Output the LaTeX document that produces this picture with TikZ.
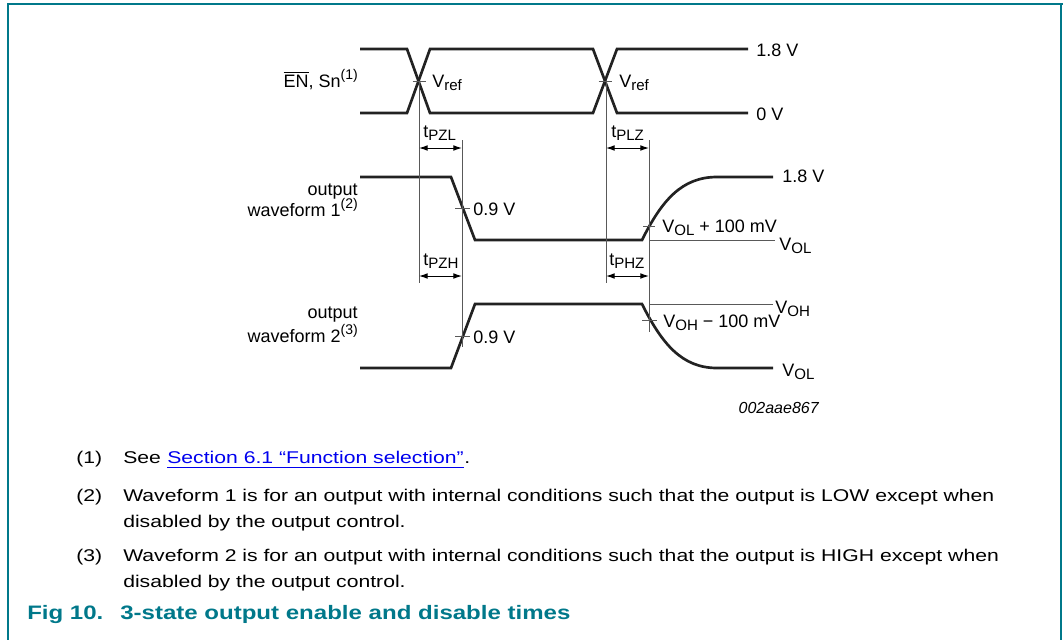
\documentclass[tikz,border=0pt]{standalone}
\usepackage{fontspec}
\setmainfont{Liberation Sans}
\newfontfamily\notef[FakeStretch=1.245]{Liberation Sans}
\newfontfamily\capf[FakeStretch=1.235]{Liberation Sans Bold}
\usetikzlibrary{arrows.meta}
\definecolor{nxpteal}{HTML}{00788A}
\definecolor{linkblue}{HTML}{0000EE}
\definecolor{waveblack}{HTML}{222222}
\newcommand{\sbs}[1]{\raisebox{-0.2em}{\fontsize{11.3}{11}\selectfont #1}}
\newcommand{\sps}[1]{\raisebox{0.42em}{\fontsize{10.5}{10}\selectfont #1}}
\newcommand{\dgf}{\fontsize{13.5}{16}\selectfont}
\newcommand{\ntf}{\notef\fontsize{12.75}{15}\selectfont}
\newcommand{\cpf}{\capf\fontsize{14.6}{17}\selectfont}
\tikzset{
  lbl/.style={inner sep=0pt, font=\dgf},
  note/.style={inner sep=0pt, font=\ntf, anchor=base west},
  capt/.style={inner sep=0pt, font=\cpf, text=nxpteal, anchor=base west},
  wave/.style={line width=2pt, draw=waveblack, line join=miter},
  thin/.style={line width=0.75pt, draw=black!65},
  tick/.style={line width=0.75pt, draw=black!65},
  dim/.style={line width=0.75pt, draw=black, {Latex[length=6.5pt,width=4.3pt]}-{Latex[length=6.5pt,width=4.3pt]}},
  frame/.style={line width=1.2pt, draw=nxpteal}
}
\begin{document}
\begin{tikzpicture}[x=0.75pt,y=-0.75pt]
\useasboundingbox (0,0) rectangle (1063,640);
% frame
\coordinate (ftl) at (7,4); \coordinate (ftr) at (1063,4);
\coordinate (fl1) at (8,4); \coordinate (fl2) at (8,640);
\coordinate (fr1) at (1061,4); \coordinate (fr2) at (1061,640);
\draw[frame] (ftl) -- (ftr);
\draw[frame] (fl1) -- (fl2);
\draw[frame] (fr1) -- (fr2);

% key coordinates
\coordinate (x1) at (418.5,81);
\coordinate (x2) at (605.5,81);
\coordinate (c1) at (462,208.5);
\coordinate (c2) at (462,336);
\coordinate (c3) at (649,226);
\coordinate (c4) at (649,320);

% EN / Sn waveforms
\draw[wave] (360,49) -- (407,49) -- (430,113) -- (593,113) -- (617,49) -- (748,49);
\draw[wave] (360,113) -- (407,113) -- (430,49) -- (593,49) -- (617,113) -- (748,113);

% output waveform 1
\draw[wave] (360,177) -- (451,177) -- (475,240) -- (642,240) .. controls (662,200) and (682,177) .. (717,177) -- (773,177);
% output waveform 2
\draw[wave] (360,368) -- (451,368) -- (475,304) -- (642,304) .. controls (662,344) and (682,368) .. (717,368) -- (773,368);

% vertical reference lines
\coordinate (v1b) at (419,283);
\coordinate (v2t) at (462,140); \coordinate (v2b) at (462,347);
\coordinate (v3b) at (606,283);
\coordinate (v4t) at (649,140); \coordinate (v4b) at (649,332);
\draw[thin] (419,81) -- (v1b);
\draw[thin] (v2t) -- (v2b);
\draw[thin] (606,81) -- (v3b);
\draw[thin] (v4t) -- (v4b);

% level reference lines
\coordinate (rol1) at (649,240); \coordinate (rol2) at (775,240);
\coordinate (roh1) at (649,304); \coordinate (roh2) at (773,304);
\draw[thin] (rol1) -- (rol2);
\draw[thin] (roh1) -- (roh2);

% ticks
\draw[tick] ([xshift=-4.5pt]x1) -- ([xshift=5.25pt]x1);
\draw[tick] ([xshift=-5.25pt]x2) -- ([xshift=4.9pt]x2);
\draw[tick] ([xshift=-5.25pt]c1) -- ([xshift=6pt]c1);
\draw[tick] ([xshift=-5.25pt]c2) -- ([xshift=6pt]c2);
\draw[tick] ([xshift=-4.5pt]c3) -- ([xshift=4.5pt]c3);
\draw[tick] ([xshift=-5.25pt]c4) -- ([xshift=6pt]c4);

% dimension arrows
\coordinate (a1l) at (419,148); \coordinate (a1r) at (462,148);
\coordinate (a2l) at (606,148); \coordinate (a2r) at (649,148);
\coordinate (a3l) at (419,276); \coordinate (a3r) at (462,276);
\coordinate (a4l) at (606,276); \coordinate (a4r) at (649,276);
\draw[dim] (a1l) -- (a1r);
\draw[dim] (a2l) -- (a2r);
\draw[dim] (a3l) -- (a3r);
\draw[dim] (a4l) -- (a4r);

% labels
\node[lbl, anchor=base east] (en) at (358,87) {$\overline{\hbox{EN}}$, Sn\sps{(1)}};
\node[lbl, anchor=base west] (vref1) at (432,87) {V\sbs{ref}};
\node[lbl, anchor=base west] (vref2) at (619,87) {V\sbs{ref}};
\node[lbl, anchor=base west] (hi1) at (756,56) {1.8 V};
\node[lbl, anchor=base west] (lo1) at (756,120) {0 V};
\node[lbl, anchor=base west] (tpzl) at (423,137) {t\sbs{PZL}};
\node[lbl, anchor=base west] (tplz) at (611,137) {t\sbs{PLZ}};
\node[lbl, anchor=base east] (out1) at (358,195) {output};
\node[lbl, anchor=base east] (wf1) at (358,216) {waveform 1\sps{(2)}};
\node[lbl, anchor=base west] (n09a) at (473,215) {0.9 V};
\node[lbl, anchor=base west] (hi2) at (782,182) {1.8 V};
\node[lbl, anchor=base west] (vol100) at (662,232) {V\sbs{OL} + 100 mV};
\node[lbl, anchor=base west] (vol1) at (779,250) {V\sbs{OL}};
\node[lbl, anchor=base west] (tpzh) at (423,265) {t\sbs{PZH}};
\node[lbl, anchor=base west] (tphz) at (609,265) {t\sbs{PHZ}};
\node[lbl, anchor=base east] (out2) at (358,318) {output};
\node[lbl, anchor=base east] (wf2) at (358,342) {waveform 2\sps{(3)}};
\node[lbl, anchor=base west] (n09b) at (473,343) {0.9 V};
\node[lbl, anchor=base west] (voh) at (775,313) {V\sbs{OH}};
\node[lbl, anchor=base west] (voh100) at (663,327) {V\sbs{OH} − 100 mV};
\node[lbl, anchor=base west] (vol2) at (782,376) {V\sbs{OL}};
\node[inner sep=0pt, anchor=base east, font=\fontsize{12}{14}\selectfont\itshape] (code) at (819,413) {002aae867};

% notes
\node[note] (n1) at (76,463) {(1)};
\node[note] (see) at (123,463) {See};
\node[note, text=linkblue] (lnk) at ([xshift=4.4pt]see.base east) {Section 6.1 “Function selection”};
\node[note] (dot) at (lnk.base east) {.};
\draw[linkblue, line width=1pt] ([yshift=-3.6pt]lnk.base west) -- ([yshift=-3.6pt]lnk.base east);
\node[note] (n2) at (76,501) {(2)};
\node[note] (t2a) at (123,501) {Waveform 1 is for an output with internal conditions such that the output is LOW except when};
\node[note] (t2b) at (123,527) {disabled by the output control.};
\node[note] (n3) at (76,561) {(3)};
\node[note] (t3a) at (123,561) {Waveform 2 is for an output with internal conditions such that the output is HIGH except when};
\node[note] (t3b) at (123,587) {disabled by the output control.};
\node[capt] (fig) at (27,619) {Fig 10.};
\node[capt] (figt) at (120,619) {3-state output enable and disable times};
\end{tikzpicture}
\end{document}
